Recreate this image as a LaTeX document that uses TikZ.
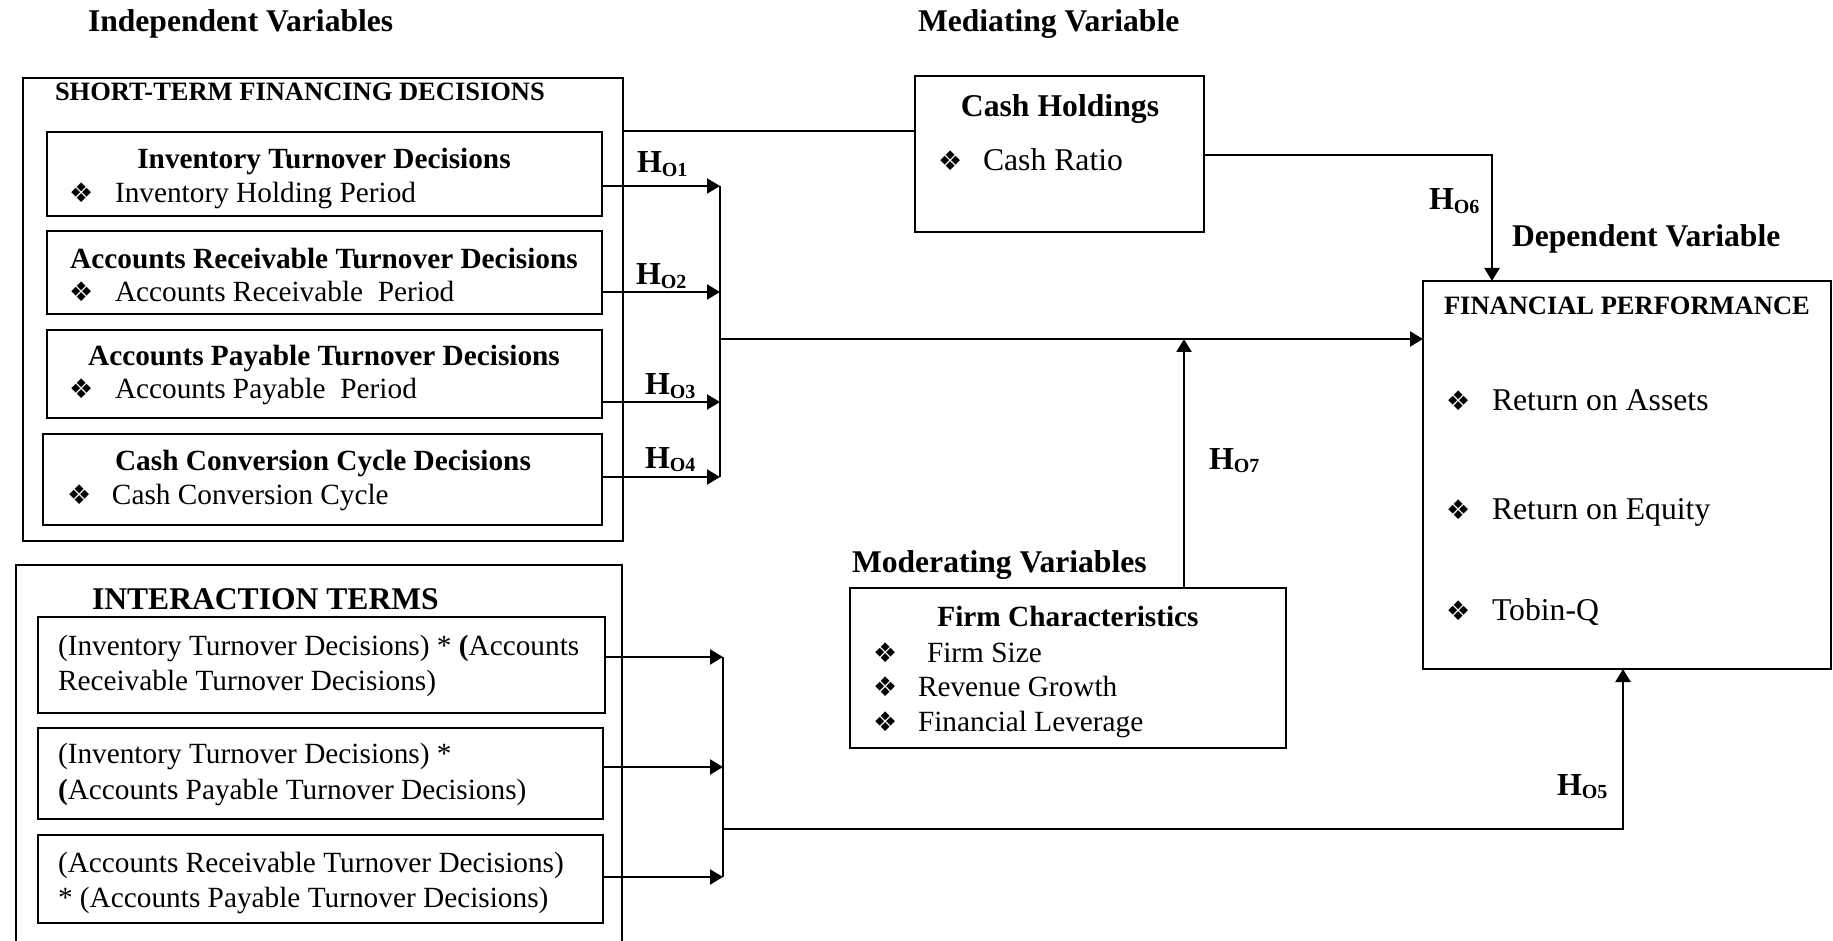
\documentclass[tikz,border=0pt]{standalone}
\usepackage{fontspec}
\setmainfont{Liberation Serif}
\newfontfamily\symfont{DejaVu Sans}
\usetikzlibrary{arrows.meta,fit}
\newcommand{\fhd}{\fontsize{15.8}{18}\selectfont\bfseries}
\newcommand{\fttl}{\fontsize{13.25}{15}\selectfont\bfseries}
\newcommand{\fbx}{\fontsize{14.65}{17}\selectfont}
\newcommand{\fbg}{\fontsize{15.85}{18}\selectfont}
\newcommand{\bul}{{\symfont\fontsize{13.5}{13.5}\selectfont ❖}}
\newcommand{\bitem}[2]{\makebox[#1][l]{\bul}#2}
\newcommand{\hyp}[1]{{\fontsize{16}{18}\selectfont\bfseries H\raisebox{-1.8pt}{\fontsize{10}{10}\selectfont O#1}}}
\tikzset{
  bx/.style={draw, line width=1pt, inner sep=0pt, outer sep=0pt},
  ln/.style={line width=1.1pt},
  arr/.style={line width=1.1pt, -{Triangle[length=6.5pt,width=7.5pt]}},
  txt/.style={inner sep=0pt, outer sep=0pt, anchor=base west},
  ctxt/.style={inner sep=0pt, outer sep=0pt, anchor=base},
}
\begin{document}
\begin{tikzpicture}[x=0.5pt,y=-0.5pt]
\useasboundingbox (0,0) rectangle (1833,941);
% headings
\node[txt] (ind) at (88,32) {\fhd Independent Variables};
\node[txt] (med) at (918,32) {\fhd Mediating Variable};
\node[txt] (dep) at (1512,247) {\fhd Dependent Variable};
\node[txt] (mod) at (852,572) {\fhd Moderating Variables};
% short-term financing decisions
\node[bx, fit={(23,78) (623,541)}] (stfd) {};
\node[txt] (stt) at (55,101) {\fttl SHORT-TERM FINANCING DECISIONS};
\node[bx, fit={(47,132) (602,216)}] (b1) {};
\node[ctxt] (b1t) at (324,169) {\fbx\bfseries Inventory Turnover Decisions};
\node[txt] (b1i) at (69,203) {\fbx\bitem{23pt}{Inventory Holding Period}};
\node[bx, fit={(47,231) (602,314)}] (b2) {};
\node[ctxt] (b2t) at (324,269) {\fbx\bfseries Accounts Receivable Turnover Decisions};
\node[txt] (b2i) at (69,302) {\fbx\bitem{23pt}{Accounts Receivable~ Period}};
\node[bx, fit={(47,330) (602,418)}] (b3) {};
\node[ctxt] (b3t) at (324,366) {\fbx\bfseries Accounts Payable Turnover Decisions};
\node[txt] (b3i) at (69,399) {\fbx\bitem{23pt}{Accounts Payable~ Period}};
\node[bx, fit={(43,434) (602,525)}] (b4) {};
\node[ctxt] (b4t) at (323,471) {\fbx\bfseries Cash Conversion Cycle Decisions};
\node[txt] (b4i) at (67,504) {\fbx\bitem{22.5pt}{Cash Conversion Cycle}};
% cash holdings
\node[bx, fit={(915,76) (1204,232)}] (cash) {};
\node[ctxt] (casht) at (1060,117) {\fbg\bfseries Cash Holdings};
\node[txt] (cashi) at (938,171) {\fbg\bitem{22.5pt}{Cash Ratio}};
% financial performance
\node[bx, fit={(1423,281) (1831,669)}] (fp) {};
\node[txt] (fpt) at (1444,315) {\fttl FINANCIAL PERFORMANCE};
\node[txt] (fp1) at (1446,411) {\fbg\bitem{23pt}{Return on Assets}};
\node[txt] (fp2) at (1446,519) {\fbg\bitem{23pt}{Return on Equity}};
\node[txt] (fp3) at (1446,620) {\fbg\bitem{23pt}{Tobin-Q}};
% firm characteristics
\node[bx, fit={(850,588) (1286,748)}] (firm) {};
\node[ctxt] (firmt) at (1068,626) {\fbx\bfseries Firm Characteristics};
\node[txt] (firm1) at (873,662) {\fbx\bitem{27pt}{Firm Size}};
\node[txt] (firm2) at (873,696) {\fbx\bitem{22.5pt}{Revenue Growth}};
\node[txt] (firm3) at (873,731) {\fbx\bitem{22.5pt}{Financial Leverage}};
% interaction terms
\node[inner sep=0pt, outer sep=0pt, fit={(16,565) (622,941)}] (it) {};
\draw[bx] (it.south west) -- (it.north west) -- (it.north east) -- (it.south east);
\node[txt] (itt) at (92,609) {\fhd INTERACTION TERMS};
\node[bx, fit={(38,617) (605,713)}] (ia) {};
\node[txt] (ia1) at (58,655) {\fbx (Inventory Turnover Decisions) * \textbf{(}Accounts};
\node[txt] (ia2) at (58,690) {\fbx Receivable Turnover Decisions)};
\node[bx, fit={(38,728) (603,819)}] (ib) {};
\node[txt] (ib1) at (58,763) {\fbx (Inventory Turnover Decisions) *};
\node[txt] (ib2) at (58,799) {\fbx \textbf{(}Accounts Payable Turnover Decisions)};
\node[bx, fit={(38,835) (603,923)}] (ic) {};
\node[txt] (ic1) at (58,872) {\fbx (Accounts Receivable Turnover Decisions)};
\node[txt] (ic2) at (58,907) {\fbx * (Accounts Payable Turnover Decisions)};
% hypothesis labels
\node[txt] (h1) at (637,173) {\hyp{1}};
\node[txt] (h2) at (636,285) {\hyp{2}};
\node[txt] (h3) at (645,395) {\hyp{3}};
\node[txt] (h4) at (645,468) {\hyp{4}};
\node[txt] (h5) at (1557,795) {\hyp{5}};
\node[txt] (h6) at (1429,210) {\hyp{6}};
\node[txt] (h7) at (1209,469) {\hyp{7}};
% connectors: short-term decisions
\coordinate (j1) at (720,186);
\coordinate (j2) at (720,292);
\coordinate (j3) at (720,402);
\coordinate (j4) at (720,477);
\draw[arr] (b1.east |- j1) -- (j1);
\draw[arr] (b2.east |- j2) -- (j2);
\draw[arr] (b3.east |- j3) -- (j3);
\draw[arr] (b4.east |- j4) -- (j4);
\draw[ln] (j1) -- (j4);
\coordinate (m0) at (720,339);
\draw[arr] (m0) -- (m0 -| fp.west);
\coordinate (m7) at (1184,339);
\draw[arr] (m7 |- firm.north) -- (m7);
% mediating
\coordinate (t1) at (700,131);
\draw[ln] (stfd.east |- t1) -- (cash.west |- t1);
\coordinate (c6) at (1492,155);
\draw[arr] (cash.east |- c6) -- (c6) -- (c6 |- fp.north);
% interaction connectors
\coordinate (k1) at (723,657);
\coordinate (k2) at (723,767);
\coordinate (k3) at (723,877);
\draw[arr] (ia.east |- k1) -- (k1);
\draw[arr] (ib.east |- k2) -- (k2);
\draw[arr] (ic.east |- k3) -- (k3);
\draw[ln] (k1) -- (k3);
\coordinate (k0) at (723,829);
\coordinate (k5) at (1623,829);
\draw[arr] (k0) -- (k5) -- (k5 |- fp.south);
\end{tikzpicture}
\end{document}
